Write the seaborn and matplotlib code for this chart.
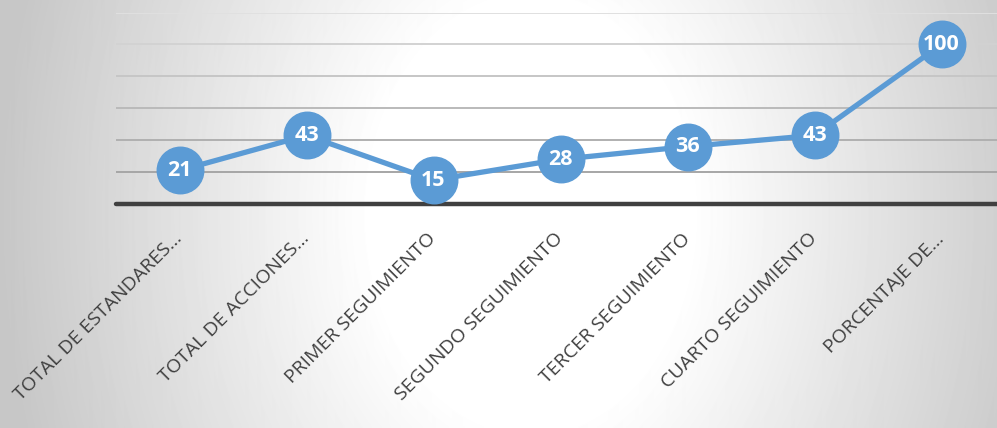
import numpy as np
import pandas as pd
import matplotlib
matplotlib.use("Agg")
import matplotlib.pyplot as plt
import seaborn as sns

categorias = ["TOTAL DE ESTANDARES...", "TOTAL DE ACCIONES...", "PRIMER SEGUIMIENTO",
              "SEGUNDO SEGUIMIENTO", "TERCER SEGUIMIENTO", "CUARTO SEGUIMIENTO",
              "PORCENTAJE DE..."]
valores = [21, 43, 15, 28, 36, 43, 100]
grid_vals = [20, 40, 60, 80, 100, 120]
grid_colors = ["#a6a6a6", "#b0b0b0", "#bababa", "#c6c6c6", "#d2d2d2", "#e0e0e0"]

df = pd.DataFrame({"categoria": categorias, "valor": valores})

sns.set_style("white")
plt.rcParams["font.family"] = ["Open Sans", "DejaVu Sans"]

fig = plt.figure(figsize=(9.97, 4.28), dpi=100)

# fondo con degradado radial
bg = fig.add_axes([0, 0, 1, 1], zorder=0)
h, w = 428, 997
yy, xx = np.mgrid[0:h, 0:w]
r = np.hypot(xx - 530, (yy - 214) * 0.75)
shade = 1 - 0.22 * np.clip((r - 160) / 370, 0, 1)
bg.imshow(shade, cmap="gray", vmin=0, vmax=1, aspect="auto", interpolation="bilinear")
bg.axis("off")

ax = fig.add_axes([116 / 997, 1 - 204 / 428, 889 / 997, (204 - 12.5) / 428], zorder=1)
ax.patch.set_alpha(0)

for gv, gc in zip(grid_vals, grid_colors):
    ax.axhline(gv, color=gc, linewidth=1.4, zorder=1)
ax.axhline(0, color="#404040", linewidth=3.2, zorder=2, clip_on=False)

color = "#5b9bd5"
sns.lineplot(data=df, x="categoria", y="valor", ax=ax, color=color, linewidth=3.8,
             sort=False, zorder=3)
ax.plot(range(len(valores)), valores, linestyle="none", marker="o", markersize=33.5,
        color=color, zorder=4)
for i, v in enumerate(valores):
    ax.text(i, v, str(v), ha="center", va="center", color="white", fontsize=15.5,
            fontweight="bold", zorder=5)

ax.set_xlim(-0.5, len(categorias) - 0.5)
ax.set_ylim(0, 120)
ax.set_yticks([])
ax.set_xlabel("")
ax.set_ylabel("")
for s in ax.spines.values():
    s.set_visible(False)
ax.set_xticks(range(len(categorias)))
ax.set_xticklabels(categorias, rotation=45, ha="right", va="center",
                   rotation_mode="anchor", color="#404040", fontsize=14)
ax.tick_params(axis="x", length=0, pad=23)

fig.savefig("out.png", dpi=100)
